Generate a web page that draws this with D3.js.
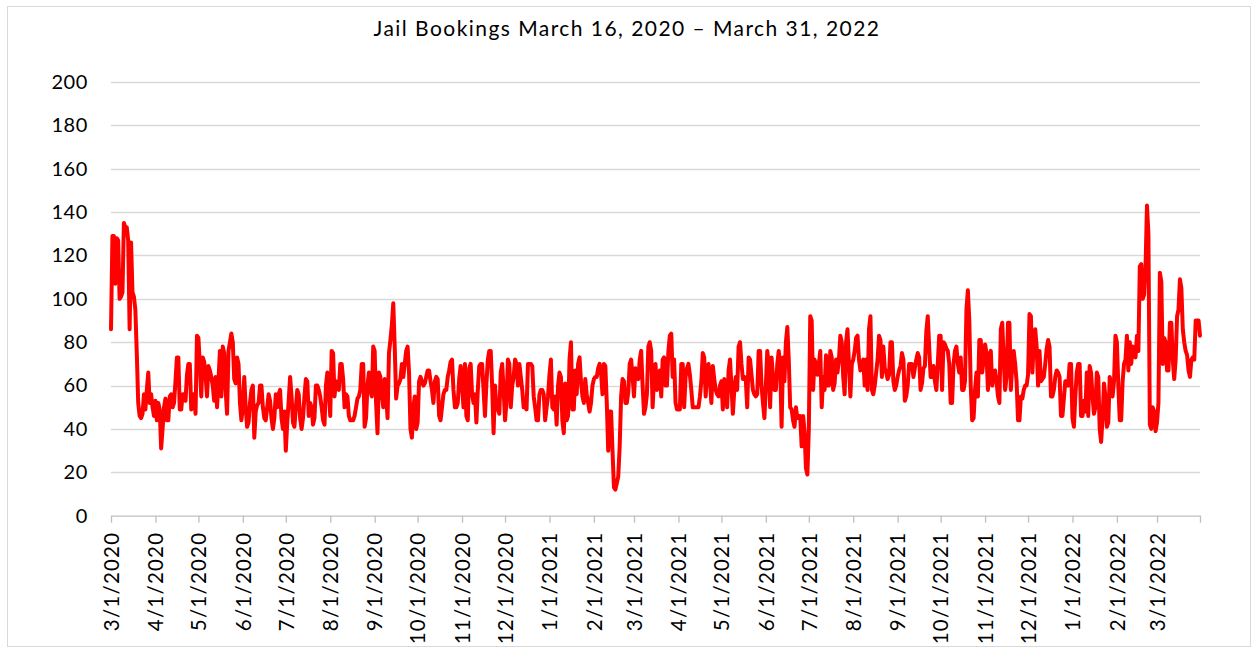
<!DOCTYPE html>
<html>
<head>
<meta charset="utf-8">
<script src="https://cdn.jsdelivr.net/npm/d3@7"></script>
<style>
  body { margin: 0; background: #ffffff; }
  svg { display: block; }
  text { font-family: Lato, "Open Sans", sans-serif; fill: #000; }
</style>
</head>
<body>
<svg id="chart" width="1257" height="648"></svg>
<script>
// ---------------- DATA ----------------
const chartTitle = "Jail Bookings March 16, 2020 \u2013 March 31, 2022";
const startDate = "2020-03-01";
const endDate = "2022-03-31";

// daily bookings, 3/1/2020 - 12/31/2020
const bookings2020 = [
  86,129,129,107,128,127,100,101,103,135,
  133,133,127,86,126,103,101,95,75,52,
  46,45,47,56,49,58,66,52,56,50,
  46,53,44,52,49,31,40,50,54,44,
  44,55,56,50,52,62,73,73,49,49,
  56,56,53,65,70,70,49,56,56,47,
  83,82,70,55,73,71,65,55,69,67,
  64,60,53,64,50,62,76,55,78,75,
  58,47,76,80,84,80,63,61,73,70,
  52,44,50,64,50,41,43,52,58,60,
  36,48,51,52,60,60,50,45,44,50,
  56,53,45,40,45,56,50,56,58,45,
  40,48,30,43,53,64,55,43,41,50,
  58,56,45,40,45,55,63,62,46,52,
  50,42,45,60,60,58,55,50,44,42,
  60,66,58,46,76,75,55,62,60,58,
  70,70,63,50,56,55,46,44,44,44,
  46,50,54,55,58,70,70,41,45,60,
  66,58,55,78,76,52,38,66,64,56,
  50,63,56,45,75,81,88,98,78,54,
  60,61,63,70,64,70,76,78,66,40,
  36,50,55,40,43,62,64,62,60,61,
  64,67,67,62,58,52,62,64,63,46,
  44,50,56,58,58,64,67,71,72,58,
  50,50,52,63,69,60,50,70,46,44,
  68,70,56,52,56,43,58,69,70,70,
  58,46,61,72,76,76,60,38,60,50,
  49,47,66,70,58,44,52,72,70,50,
  60,64,72,70,60,70,64,58,50,50,
  49,70,70,70,69,55,50,44,44,56,
  58,58,56,44,50,55
];

// daily bookings, 1/1/2021 - 12/31/2021
const bookings2021 = [
  65,72,50,49,55,42,60,66,64,44,
  38,61,44,46,72,80,49,49,67,56,
  70,73,62,55,52,63,56,52,48,52,
  60,63,64,64,68,70,66,56,70,69,
  52,30,48,48,30,13,12,15,18,32,
  55,63,62,52,52,57,70,72,64,55,
  68,64,63,72,76,60,47,50,56,78,
  80,76,50,64,70,58,60,67,55,72,
  73,60,60,76,83,84,64,72,52,49,
  49,49,70,70,50,64,68,70,65,58,
  50,50,50,50,50,55,62,75,73,55,
  66,70,62,52,69,63,58,56,55,60,
  62,49,63,60,50,67,72,60,47,58,
  64,58,78,80,70,63,64,63,50,73,
  72,65,58,56,55,56,76,76,60,52,
  45,60,76,70,50,73,64,58,58,70,
  76,70,41,73,62,80,87,72,50,49,
  44,41,50,45,46,46,32,46,39,22,
  19,40,92,90,58,72,70,65,70,76,
  50,64,58,74,60,60,76,73,58,61,
  72,66,72,83,80,64,56,80,86,70,
  55,70,72,76,82,83,72,67,70,72,
  60,72,58,86,92,58,56,60,66,72,
  83,81,64,78,68,66,63,65,80,80,
  62,58,60,64,67,69,75,72,53,55,
  60,70,70,70,64,68,72,75,73,58,
  61,68,69,85,92,78,64,64,69,62,
  58,70,83,83,58,80,79,77,76,70,
  52,52,70,76,78,70,66,73,58,58,
  62,95,104,90,60,44,45,58,66,55,
  81,81,66,72,79,75,58,74,76,60,
  64,67,62,55,52,86,89,72,58,64,
  89,89,58,70,76,70,62,44,44,55,
  54,58,60,60,65,93,92,66,80,86,
  78,60,76,62,63,64,70,77,81,78,
  55,55,58,64,67,66,64,46,46,54,
  62,62,60,70,70
];

// daily bookings, 1/1/2022 - 3/31/2022
const bookings2022 = [
  45,41,55,66,70,70,46,46,53,48,
  66,46,69,66,55,47,50,66,64,40,
  34,45,61,55,41,43,64,60,55,62,
  83,80,60,44,44,62,70,72,83,67,
  80,70,78,77,73,83,76,115,116,100,
  102,115,143,130,42,40,50,48,39,43,
  52,112,108,70,82,80,67,67,89,89,
  72,63,72,92,95,109,105,86,80,76,
  74,67,64,72,73,72,90,90,90,83
];

const yTickValues = [0, 20, 40, 60, 80, 100, 120, 140, 160, 180, 200];
const xTickLabels = [
  "3/1/2020","4/1/2020","5/1/2020","6/1/2020","7/1/2020","8/1/2020",
  "9/1/2020","10/1/2020","11/1/2020","12/1/2020","1/1/2021","2/1/2021",
  "3/1/2021","4/1/2021","5/1/2021","6/1/2021","7/1/2021","8/1/2021",
  "9/1/2021","10/1/2021","11/1/2021","12/1/2021","1/1/2022","2/1/2022",
  "3/1/2022"
];

// ---------------- CHART ----------------
const svg = d3.select("#chart");
const plot = { left: 111, right: 1200, top: 82, bottom: 515.7 };

const parseISO = d3.timeParse("%Y-%m-%d");
const parseLabel = d3.timeParse("%-m/%-d/%Y");
const fmtLabel = d3.timeFormat("%-m/%-d/%Y");

const t0 = parseISO(startDate);
const tEnd = parseISO(endDate);
const values = bookings2020.concat(bookings2021, bookings2022);
const data = values.map((v, i) => ({ date: d3.timeDay.offset(t0, i), value: v }));

const x = d3.scaleTime()
  .domain([t0, tEnd])
  .range([plot.left, plot.right]);
const y = d3.scaleLinear()
  .domain([0, 200])
  .range([plot.bottom, plot.top]);

// chart border
svg.append("rect")
  .attr("x", 7.5).attr("y", 6.5)
  .attr("width", 1243).attr("height", 640)
  .attr("fill", "#fff")
  .attr("stroke", "#d9d9d9")
  .attr("stroke-width", 1);

// title
svg.append("text")
  .attr("x", 627).attr("y", 36)
  .attr("text-anchor", "middle")
  .style("font-size", "21px")
  .style("letter-spacing", "1.45px")
  .text(chartTitle);

// gridlines
svg.append("g")
  .selectAll("line")
  .data(yTickValues.filter(v => v > 0))
  .join("line")
  .attr("x1", plot.left).attr("x2", plot.right)
  .attr("y1", d => Math.round(y(d)) + 0.5)
  .attr("y2", d => Math.round(y(d)) + 0.5)
  .attr("stroke", "#d9d9d9")
  .attr("stroke-width", 1.3);

// y axis labels
const yAxis = d3.axisLeft(y).tickValues(yTickValues).tickSize(0).tickPadding(0);
const gy = svg.append("g").attr("transform", `translate(${plot.left - 23},0)`).call(yAxis);
gy.select(".domain").remove();
gy.selectAll("text")
  .style("font-size", "20px")
  .style("letter-spacing", "0.6px")
  .style("font-family", "Lato, 'Open Sans', sans-serif")
  .attr("fill", "#000");

// x axis
const tickDates = xTickLabels.map(parseLabel).concat([tEnd]);
const xAxis = d3.axisBottom(x)
  .tickValues(tickDates)
  .tickSize(7)
  .tickSizeOuter(0)
  .tickFormat(d => (+d === +tEnd) ? "" : fmtLabel(d));
const gx = svg.append("g").attr("transform", `translate(0,${plot.bottom})`).call(xAxis);
gx.select(".domain").attr("stroke", "#bfbfbf").attr("stroke-width", 1.3);
gx.selectAll(".tick line").attr("stroke", "#bfbfbf").attr("stroke-width", 1.3);
gx.selectAll("text")
  .style("font-size", "20.5px")
  .style("letter-spacing", "1.2px")
  .style("font-family", "Lato, 'Open Sans', sans-serif")
  .attr("fill", "#000")
  .attr("transform", "rotate(-90)")
  .attr("x", -16)
  .attr("y", 0)
  .attr("dy", "0.35em")
  .style("text-anchor", "end");

// line
const line = d3.line()
  .x(d => x(d.date))
  .y(d => y(d.value));
svg.append("path")
  .datum(data)
  .attr("fill", "none")
  .attr("stroke", "#ff0000")
  .attr("stroke-width", 4)
  .attr("stroke-linejoin", "round")
  .attr("stroke-linecap", "round")
  .attr("d", line);
</script>
</body>
</html>
